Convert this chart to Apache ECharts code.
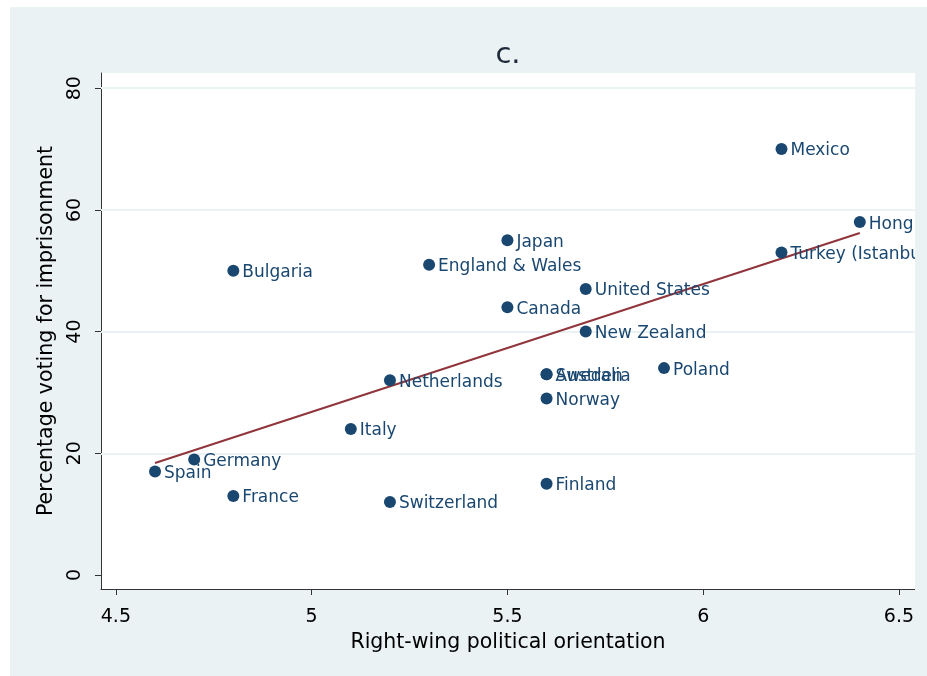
<!DOCTYPE html>
<html>
<head>
<meta charset="utf-8">
<script src="https://cdn.jsdelivr.net/npm/echarts@6/dist/echarts.min.js"></script>
<style>
html, body { margin: 0; padding: 0; background: #fff; }
#main { position: absolute; left: 10px; top: 7px; width: 917px; height: 669px; }
</style>
</head>
<body>
<div id="main"></div>
<script>
// countries, right-wing orientation (x) and % voting for imprisonment (y)
var countries = ['Spain', 'Germany', 'France', 'Bulgaria', 'Italy', 'Netherlands', 'Switzerland',
  'England & Wales', 'Japan', 'Canada', 'Australia', 'Sweden', 'Norway', 'Finland',
  'United States', 'New Zealand', 'Poland', 'Mexico', 'Turkey (Istanbul)', 'Hong Kong'];
var orientation = [4.6, 4.7, 4.8, 4.8, 5.1, 5.2, 5.2, 5.3, 5.5, 5.5, 5.6, 5.6, 5.6, 5.6, 5.7, 5.7, 5.9, 6.2, 6.2, 6.4];
var imprisonment = [17, 19, 13, 50, 24, 32, 12, 51, 55, 44, 33, 33, 29, 15, 47, 40, 34, 70, 53, 58];
// fitted line end points
var fitLine = [[4.6, 18.4], [6.4, 56.2]];
var xTicks = [4.5, 5, 5.5, 6, 6.5];
var yTicks = [0, 20, 40, 60, 80];

var font = 'DejaVu Sans, Verdana, sans-serif';
var points = countries.map(function (c, i) {
  return { name: c, value: [orientation[i], imprisonment[i]] };
});

var chart = echarts.init(document.getElementById('main'));
chart.setOption({
  backgroundColor: '#eaf2f3',
  animation: false,
  title: {
    text: 'c.',
    left: 493,
    top: 29,
    textAlign: 'center',
    textStyle: { fontFamily: font, fontSize: 29, fontWeight: 'normal', color: '#1e2a3a' }
  },
  grid: {
    left: 91, top: 66, right: 12, bottom: 87,
    show: true, backgroundColor: '#fff', borderWidth: 0
  },
  xAxis: {
    type: 'value',
    min: 4.462, max: 6.541,
    name: 'Right-wing political orientation',
    nameLocation: 'middle',
    nameGap: 41,
    nameTextStyle: { fontFamily: font, fontSize: 20.5, color: '#000' },
    axisLine: { show: true, onZero: false, lineStyle: { color: '#333', width: 1 } },
    axisTick: { show: true, length: 6, customValues: xTicks, lineStyle: { color: '#333' } },
    axisLabel: { customValues: xTicks, margin: 19, fontFamily: font, fontSize: 19, color: '#000' },
    splitLine: { show: false }
  },
  yAxis: {
    type: 'value',
    min: -2.3, max: 82.5,
    name: 'Percentage voting for imprisonment',
    nameLocation: 'middle',
    nameGap: 44,
    nameTextStyle: { fontFamily: font, fontSize: 20.5, color: '#000' },
    axisLine: { show: true, onZero: false, lineStyle: { color: '#333', width: 1 } },
    axisTick: { show: true, length: 6, customValues: yTicks, lineStyle: { color: '#333' } },
    axisLabel: { customValues: yTicks, rotate: 90, margin: 16, fontFamily: font, fontSize: 19, color: '#000' },
    splitLine: { show: false }
  },
  series: [
    {
      type: 'line',
      data: [],
      z: 1,
      silent: true,
      markLine: {
        z: 1,
        silent: true,
        symbol: 'none',
        label: { show: false },
        lineStyle: { color: '#eaf2f3', width: 2, type: 'solid' },
        data: yTicks.slice(1).map(function (v) { return { yAxis: v }; })
      }
    },
    {
      type: 'line',
      data: fitLine,
      z: 2,
      symbol: 'none',
      lineStyle: { color: '#90353b', width: 2 }
    },
    {
      type: 'scatter',
      data: points,
      z: 3,
      symbol: 'circle',
      symbolSize: 12,
      itemStyle: { color: '#1a476f', opacity: 1 },
      label: {
        show: true,
        position: 'right',
        distance: 3,
        offset: [0, 2],
        formatter: '{b}',
        fontFamily: font,
        fontSize: 17,
        color: '#1a476f'
      }
    }
  ],
  graphic: [{
    type: 'rect',
    right: 0, top: 0,
    shape: { width: 12, height: 669 },
    style: { fill: '#eaf2f3' },
    z: 100
  }]
});
</script>
</body>
</html>
